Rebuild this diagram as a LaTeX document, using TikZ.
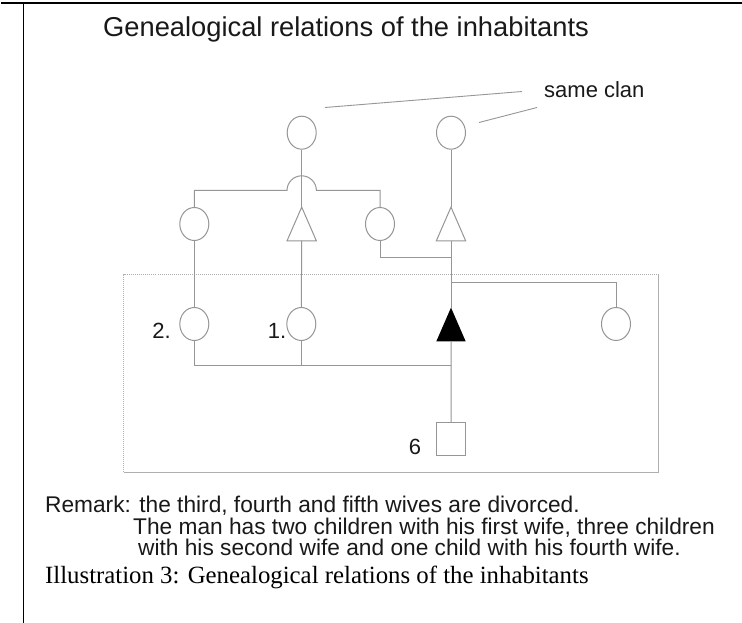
\documentclass[tikz,border=0pt]{standalone}
\usepackage{fontspec}
\setmainfont{Liberation Serif}
\newfontfamily\arialfont{Liberation Sans}
\usetikzlibrary{calc,shapes.geometric}

\definecolor{linegray}{RGB}{150,150,150}
\definecolor{boxgray}{RGB}{175,175,175}
\definecolor{inkgray}{RGB}{25,25,25}

\tikzset{
  frameline/.style={line width=2pt, black},
  link/.style={line width=1pt, linegray},
  female/.style={ellipse, draw=linegray, line width=1pt, minimum width=29pt, minimum height=33pt, inner sep=0pt},
  maleslot/.style={rectangle, minimum width=29pt, minimum height=33.4pt, inner sep=0pt},
  childbox/.style={rectangle, draw=linegray, line width=1pt, minimum width=29pt, minimum height=33pt, inner sep=0pt},
  sanslabel/.style={inner sep=0pt, text=inkgray, font=\arialfont\fontsize{22}{26}\selectfont},
  remarkline/.style={inner sep=0pt, text=inkgray, font=\arialfont\fontsize{22.7}{26}\selectfont},
}

\begin{document}
\begin{tikzpicture}[x=1pt,y=-1pt]
\useasboundingbox (0,0) rectangle (742,623);
\fill[white] (0,0) rectangle (742,623);

% cell frame
\draw[frameline] (1,3) -- (742,3);
\draw[line width=1.8pt] (23.5,3) -- (23.5,623);

% title and clan note
\node[inner sep=0pt, anchor=base west, text=inkgray, font=\arialfont\fontsize{27.3}{32}\selectfont] (title) at (103,37) {Genealogical relations of the inhabitants};
\node[inner sep=0pt, anchor=base west, text=inkgray, font=\arialfont\fontsize{22}{26}\selectfont] (clan) at (544,97.8) {same clan};

% household frame
\draw[boxgray, line width=0.8pt, dash pattern=on 1pt off 1pt] (658.5,274) -- (123.5,274) -- (123.5,472);
\draw[boxgray, line width=1pt] (123.5,472) -- (658.5,472) -- (658.5,274);

% grandparents
\node[female] (gmA) at (301.7,132.7) {};
\node[female] (gmB) at (451,132.7) {};

% parents' generation
\node[female] (sisA) at (194.3,224) {};
\node[maleslot] (broA) at (301.7,224) {};
\node[female] (sisB) at (380,224) {};
\node[maleslot] (father) at (451,224) {};
\draw[link] (broA.north) -- (broA.south east) -- (broA.south west) -- cycle;
\draw[link] (father.north) -- (father.south east) -- (father.south west) -- cycle;

% ego and wives
\node[female] (wifeB) at (194.3,324) {};
\node[female] (wifeA) at (301.3,324) {};
\node[maleslot] (ego) at (451,324.5) {};
\fill[black] (ego.north) -- (ego.south east) -- (ego.south west) -- cycle;
\node[female] (wifeC) at (616,324) {};

% child
\node[childbox] (kid) at (451.2,439.3) {};

% labels
\node[sanslabel, anchor=base east] (lblB) at (171,338.8) {2.};
\node[sanslabel, anchor=base east] (lblA) at (286.5,338.8) {1.};
\node[sanslabel, anchor=base east] (lblKid) at (421.2,454) {6};

% clan pointers
\coordinate (ptrAa) at (325,107.5);
\coordinate (ptrAb) at (522,91.5);
\coordinate (ptrBa) at (479,122.5);
\coordinate (ptrBb) at (537,107.5);
\draw[link, line width=0.9pt] (ptrAa) -- (ptrAb);
\draw[link, line width=0.9pt] (ptrBa) -- (ptrBb);

% sibling line with a hop over the descent line
\coordinate (hop) at (301.7,190.5);
\draw[link] (sisA.north) |- ($(hop)+(-14.7,0)$) arc[start angle=180, end angle=360, radius=14.7] -| (sisB.north);

% descent lines
\draw[link] (gmA.south) -- (broA.north);
\draw[link] (gmB.south) -- (father.north);
\draw[link] (father.south) -- (ego.north);
\draw[link] (sisA.south) -- (wifeB.north);
\draw[link] (broA.south) -- (wifeA.north);

\coordinate (joinB) at (451,257);
\draw[link] (sisB.south) |- (joinB);

\coordinate (joinC) at (451,282);
\draw[link] (joinC) -| (wifeC.north);

\coordinate (joinKid) at (451,365.5);
\draw[link] (wifeB.south) |- (joinKid);
\draw[link] (wifeA.south) -- (wifeA.south |- joinKid);
\draw[link] (ego.south) -- (kid.north);

% remarks and caption
\node[remarkline, anchor=base west] (rem1) at (45,512) {Remark: the third, fourth and fifth wives are divorced.};
\node[remarkline, anchor=base west] (rem2) at (133,534.5) {The man has two children with his first wife, three children};
\node[remarkline, anchor=base west] (rem3) at (138,555.5) {with his second wife and one child with his fourth wife.};
\node[inner sep=0pt, anchor=base west, text=black, font=\fontsize{24.8}{30}\selectfont] (caption) at (45,583) {Illustration 3: Genealogical relations of the inhabitants};
\end{tikzpicture}
\end{document}
